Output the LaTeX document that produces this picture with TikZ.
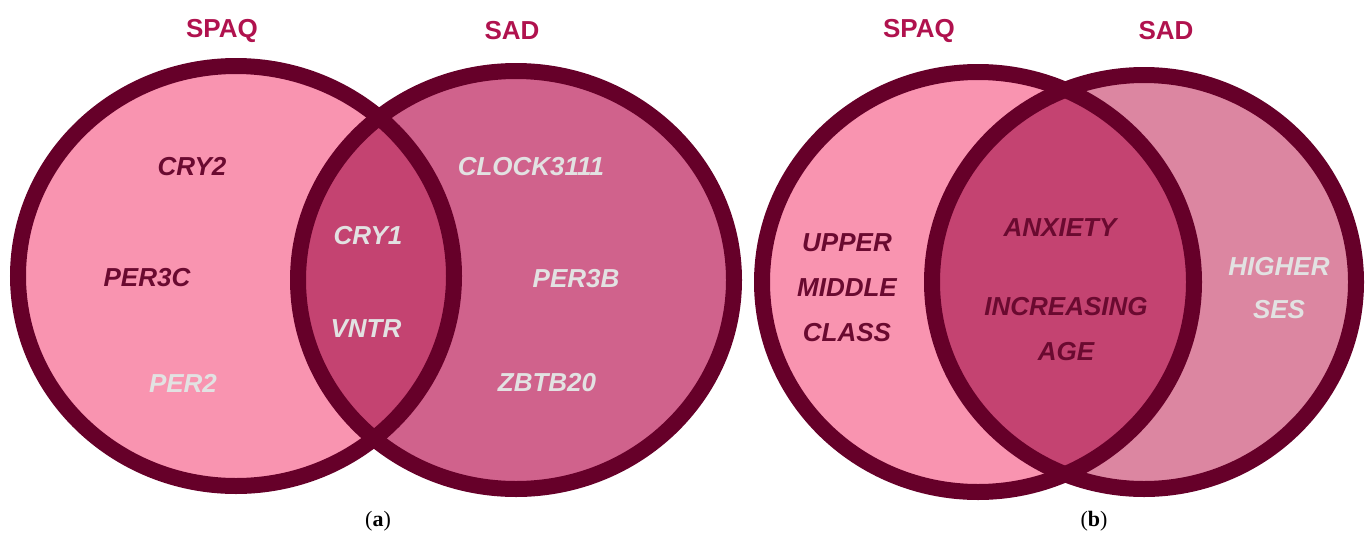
\documentclass[tikz,border=0pt]{standalone}
\usepackage{fontspec}
\setmainfont{Liberation Sans}
\newfontfamily\capfont{Liberation Serif}
\definecolor{ringc}{HTML}{660029}
\definecolor{fillA}{HTML}{F994B0}
\definecolor{fillB}{HTML}{D0628C}
\definecolor{fillBb}{HTML}{DC86A1}
\definecolor{lensc}{HTML}{C44371}
\definecolor{darktxt}{HTML}{6A0A30}
\definecolor{lighttxt}{HTML}{E2E2E2}
\definecolor{titlec}{HTML}{B0124E}
\tikzset{
  ring/.style={draw=ringc, line width=16pt},
  lbl/.style={font=\fontsize{26}{30}\selectfont\bfseries\itshape, inner sep=0pt, align=center},
  dk/.style={lbl, text=darktxt},
  lt/.style={lbl, text=lighttxt},
  ttl/.style={font=\fontsize{26}{30}\selectfont\bfseries, text=titlec, inner sep=0pt},
  subcap/.style={font=\fontsize{22}{24}\selectfont\capfont, inner sep=0pt}
}
\begin{document}
\begin{tikzpicture}[x=1pt,y=-1pt]
\useasboundingbox (0,0) rectangle (1367,541);
% ---------- (a) ----------
\fill[fillA] (236,276) ellipse [x radius=218, y radius=210];
\fill[fillB] (516,280) ellipse [x radius=218, y radius=209];
\begin{scope}
  \clip (236,276) ellipse [x radius=218, y radius=210];
  \fill[lensc] (516,280) ellipse [x radius=218, y radius=209];
\end{scope}
\draw[ring] (236,276) ellipse [x radius=218, y radius=210];
\draw[ring] (516,280) ellipse [x radius=218, y radius=209];
\node[ttl] (a-spaq) at (222,31) {SPAQ};
\node[ttl] (a-sad) at (512,31) {SAD};
\node[dk] (cry2) at (192,167) {CRY2};
\node[dk] (per3c) at (147,278) {PER3C};
\node[lt] (per2) at (183,383) {PER2};
\node[lt] (cry1) at (368,236) {CRY1};
\node[lt] (vntr) at (366,329) {VNTR};
\node[lt] (clock) at (531,167) {CLOCK3111};
\node[lt] (per3b) at (576,279) {PER3B};
\node[lt] (zbtb) at (547,383) {ZBTB20};
\node[subcap] (capa) at (378,521) {(\textbf{a})};
% ---------- (b) ----------
\fill[fillA] (978,282) ellipse [x radius=216, y radius=210];
\fill[fillBb] (1144,282) ellipse [x radius=212, y radius=207];
\begin{scope}
  \clip (978,282) ellipse [x radius=216, y radius=210];
  \fill[lensc] (1144,282) ellipse [x radius=212, y radius=207];
\end{scope}
\draw[ring] (978,282) ellipse [x radius=216, y radius=210];
\draw[ring] (1144,282) ellipse [x radius=212, y radius=207];
\node[ttl] (b-spaq) at (919,31) {SPAQ};
\node[ttl] (b-sad) at (1166,31) {SAD};
\node[dk] (upper) at (847,243) {UPPER};
\node[dk] (middle) at (847,288) {MIDDLE};
\node[dk] (class) at (847,333) {CLASS};
\node[dk] (anx) at (1060,228) {ANXIETY};
\node[dk] (incr) at (1066,307) {INCREASING};
\node[dk] (age) at (1066,352) {AGE};
\node[lt] (higher) at (1279,267) {HIGHER};
\node[lt] (ses) at (1279,310) {SES};
\node[subcap] (capb) at (1094,521) {(\textbf{b})};
\end{tikzpicture}
\end{document}
